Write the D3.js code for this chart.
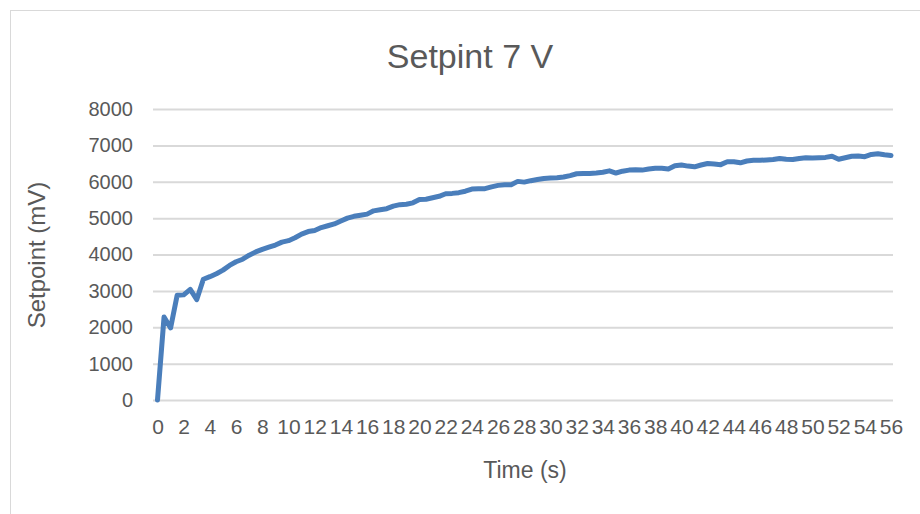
<!DOCTYPE html>
<html>
<head>
<meta charset="utf-8">
<script src="https://cdn.jsdelivr.net/npm/d3@7"></script>
<style>
  body { margin: 0; background: #fff; }
  text { font-family: "Liberation Sans", Arial, sans-serif; fill: #595959; }
</style>
</head>
<body>
<div id="chart"></div>
<script>
// setpoint readings, one every 0.5 s from 0 to 56 s (mV)
const setpoint = [
    0, 2280, 1980, 2880, 2890, 3040, 2760, 3320, 3390, 3470,
    3570, 3700, 3800, 3870, 3980, 4070, 4140, 4200, 4260, 4340,
    4380, 4460, 4560, 4630, 4660, 4740, 4790, 4840, 4920, 5000,
    5050, 5080, 5110, 5200, 5230, 5260, 5330, 5370, 5380, 5420,
    5510, 5520, 5560, 5600, 5670, 5680, 5700, 5740, 5800, 5810,
    5810, 5860, 5900, 5920, 5920, 6010, 5990, 6030, 6060, 6090,
    6100, 6110, 6130, 6170, 6220, 6230, 6230, 6240, 6260, 6300,
    6240, 6290, 6320, 6330, 6320, 6350, 6370, 6370, 6350, 6440,
    6460, 6430, 6410, 6460, 6500, 6490, 6470, 6550, 6550, 6520,
    6570, 6590, 6590, 6600, 6610, 6640, 6620, 6610, 6640, 6660,
    6650, 6660, 6670, 6700, 6620, 6660, 6700, 6710, 6690, 6750,
    6770, 6740, 6720
];
const timeStep = 0.5;
const xTicks = d3.range(0, 57, 2);
const yTicks = [0, 1000, 2000, 3000, 4000, 5000, 6000, 7000, 8000];

const chartTitle = "Setpint 7 V";
const xTitle = "Time (s)";
const yTitle = "Setpoint (mV)";

const width = 920, height = 514;
const data = setpoint.map((v, i) => ({t: i * timeStep, v: v}));

const svg = d3.select("#chart").append("svg")
    .attr("width", width)
    .attr("height", height);

// chart frame
svg.append("rect")
    .attr("x", 10.5).attr("y", 10.5)
    .attr("width", 940).attr("height", 540)
    .attr("fill", "#fff")
    .attr("stroke", "#d9d9d9")
    .attr("stroke-width", 1);

const x = d3.scaleLinear().domain([0, 56]).range([157.5, 891]);
const y = d3.scaleLinear().domain([0, 8000]).range([400, 109]);

// gridlines + y labels
const yAxis = svg.append("g")
    .attr("transform", "translate(153,0)")
    .call(d3.axisLeft(y).tickValues(yTicks).tickSize(-740).tickPadding(20).tickFormat(d3.format("d")));
yAxis.select(".domain").remove();
yAxis.selectAll(".tick line").attr("stroke", "#d9d9d9").attr("stroke-width", 2);
yAxis.selectAll(".tick text").style("font-size", "20px").attr("fill", "#595959");

// x labels
const xAxis = svg.append("g")
    .attr("transform", "translate(0,400)")
    .call(d3.axisBottom(x).tickValues(xTicks).tickSize(0).tickPadding(19));
xAxis.select(".domain").remove();
xAxis.selectAll(".tick text").style("font-size", "21px").attr("fill", "#595959");

// series
const line = d3.line()
    .x(d => x(d.t))
    .y(d => y(d.v));

svg.append("path")
    .datum(data)
    .attr("d", line)
    .attr("fill", "none")
    .attr("stroke", "#4a7ebb")
    .attr("stroke-width", 5)
    .attr("stroke-linejoin", "round")
    .attr("stroke-linecap", "round");

// titles
svg.append("text")
    .attr("x", 470).attr("y", 68)
    .attr("text-anchor", "middle")
    .style("font-size", "34px")
    .text(chartTitle);

svg.append("text")
    .attr("x", 525).attr("y", 478)
    .attr("text-anchor", "middle")
    .style("font-size", "23px")
    .text(xTitle);

svg.append("text")
    .attr("transform", "translate(45,255) rotate(-90)")
    .attr("text-anchor", "middle")
    .style("font-size", "24px")
    .text(yTitle);
</script>
</body>
</html>
